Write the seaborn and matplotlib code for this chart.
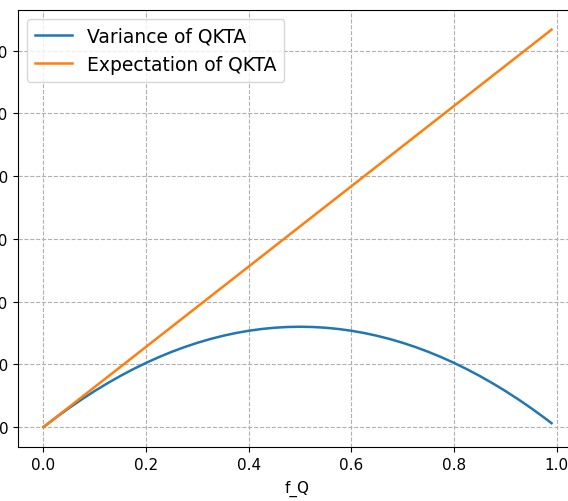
import matplotlib
matplotlib.use("Agg")
import matplotlib.pyplot as plt
import seaborn as sns
import pandas as pd

f_q = [0.000, 0.025, 0.050, 0.075, 0.100, 0.125, 0.150, 0.175, 0.200, 0.225,
       0.250, 0.275, 0.300, 0.325, 0.350, 0.375, 0.400, 0.425, 0.450, 0.475,
       0.500, 0.525, 0.550, 0.575, 0.600, 0.625, 0.650, 0.675, 0.700, 0.725,
       0.750, 0.775, 0.800, 0.825, 0.850, 0.875, 0.900, 0.925, 0.950, 0.975, 0.990]
variance = [0.0, 1.56, 3.04, 4.44, 5.76, 7.0, 8.16, 9.24, 10.24, 11.16,
            12.0, 12.76, 13.44, 14.04, 14.56, 15.0, 15.36, 15.64, 15.84, 15.96,
            16.0, 15.96, 15.84, 15.64, 15.36, 15.0, 14.56, 14.04, 13.44, 12.76,
            12.0, 11.16, 10.24, 9.24, 8.16, 7.0, 5.76, 4.44, 3.04, 1.56, 0.63]
expectation = [0.0, 1.6, 3.2, 4.8, 6.4, 8.0, 9.6, 11.2, 12.8, 14.4,
               16.0, 17.6, 19.2, 20.8, 22.4, 24.0, 25.6, 27.2, 28.8, 30.4,
               32.0, 33.6, 35.2, 36.8, 38.4, 40.0, 41.6, 43.2, 44.8, 46.4,
               48.0, 49.6, 51.2, 52.8, 54.4, 56.0, 57.6, 59.2, 60.8, 62.4, 63.36]
labels = ["Variance of QKTA", "Expectation of QKTA"]

df = pd.DataFrame({
    "f_Q": f_q * 2,
    "value": variance + expectation,
    "series": [labels[0]] * len(f_q) + [labels[1]] * len(f_q),
})

fig = plt.figure(figsize=(5.68, 5.02), dpi=100)
ax = fig.add_axes([0.0317, 0.1076, 0.984, 0.8709])
sns.lineplot(data=df, x="f_Q", y="value", hue="series", ax=ax,
             palette=["#1f77b4", "#ff7f0e"], linewidth=1.8, sort=False)
ax.set_xlabel("f_Q", fontsize=11, labelpad=6)
ax.set_ylabel("")
ax.set_xticks([0.0, 0.2, 0.4, 0.6, 0.8, 1.0])
ax.set_yticks([0, 10, 20, 30, 40, 50, 60])
ax.tick_params(labelsize=11)
ax.grid(True, linestyle="--", color="#b0b0b0", linewidth=0.8)
ax.legend(loc="upper left", fontsize=13.5, title=None)
fig.savefig("out.png", dpi=100)
